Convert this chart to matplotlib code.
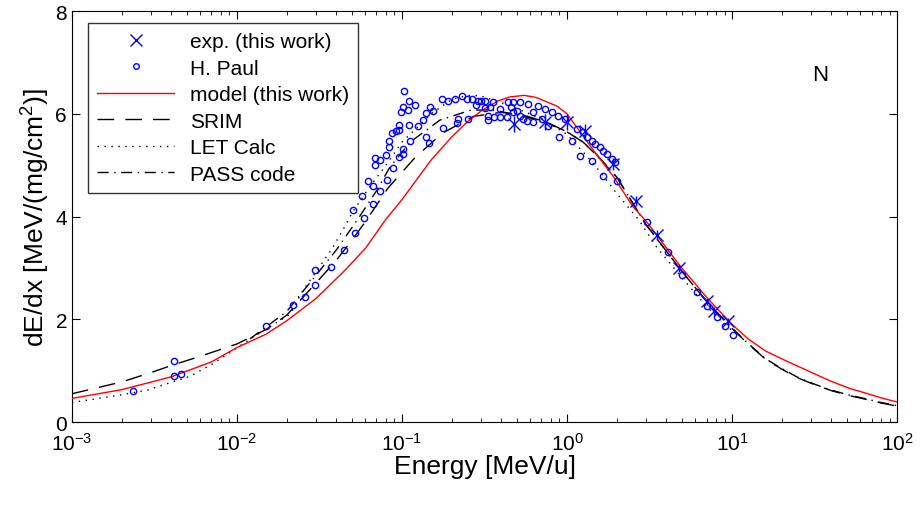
import numpy as np
import matplotlib
matplotlib.use("Agg")
import matplotlib.pyplot as plt
from matplotlib.lines import Line2D
from matplotlib.ticker import LogLocator, NullFormatter

plt.rcParams["font.family"] = ["Liberation Sans", "DejaVu Sans"]
plt.rcParams["mathtext.fontset"] = "custom"
plt.rcParams["mathtext.rm"] = "Liberation Sans"

# experimental points (this work)
exp_E = [0.48, 0.74, 1.0, 1.29, 1.9, 2.6, 3.5, 4.8, 7.0, 7.8, 9.5]
exp_S = [5.80, 5.84, 5.84, 5.66, 5.02, 4.30, 3.64, 3.00, 2.35, 2.16, 1.96]
exp_err = [0.15, 0.15, 0.15, 0.15, 0.12, 0.1, 0.1, 0.08, 0.07, 0.07, 0.06]

# H. Paul compilation
paul_E = [2.34e-3, 4.15e-3, 4.15e-3, 4.57e-3, 0.015, 0.022, 0.0259, 0.0297, 0.0297,
          0.037, 0.0445, 0.052, 0.0505, 0.0587, 0.0664, 0.057, 0.074, 0.081, 0.062,
          0.067, 0.069, 0.069, 0.074, 0.088, 0.080, 0.083, 0.083, 0.096, 0.102, 0.102,
          0.112, 0.087, 0.092, 0.096, 0.096, 0.110, 0.125, 0.134, 0.120, 0.101, 0.098,
          0.108, 0.110, 0.103, 0.139, 0.148, 0.154, 0.139, 0.145, 0.177, 0.175, 0.189,
          0.21, 0.23, 0.248, 0.265, 0.29, 0.28, 0.32, 0.218, 0.215, 0.25, 0.33, 0.32,
          0.34, 0.30, 0.356, 0.39, 0.44, 0.47, 0.52, 0.58, 0.33, 0.36, 0.39, 0.43,
          0.47, 0.46, 0.50, 0.52, 0.54, 0.57, 0.62, 0.62, 0.67, 0.74, 0.81, 0.88,
          0.97, 0.71, 0.77, 0.90, 1.07, 1.15, 1.25, 1.32, 1.42, 1.48, 1.58, 1.65,
          1.75, 1.86, 1.94, 1.2, 1.42, 1.65, 2.0, 3.05, 4.1, 5.0, 6.1, 7.0, 8.1,
          9.1, 10.1]
paul_S = [0.60, 1.19, 0.90, 0.93, 1.87, 2.28, 2.43, 2.96, 2.66,
          3.02, 3.35, 3.68, 4.12, 3.97, 4.24, 4.40, 4.49, 4.71, 4.69,
          4.59, 5.00, 5.14, 5.10, 4.94, 5.19, 5.35, 5.47, 5.16, 5.31, 5.21,
          5.47, 5.62, 5.66, 5.68, 5.78, 5.78, 5.76, 5.88, 6.17, 6.13, 6.03,
          6.07, 6.25, 6.44, 6.01, 6.13, 6.05, 5.54, 5.43, 5.72, 6.28, 6.25,
          6.28, 6.34, 6.28, 6.28, 6.26, 6.17, 6.26, 5.90, 5.82, 5.90, 5.88, 6.11,
          6.13, 6.25, 6.23, 6.09, 6.23, 6.23, 6.23, 6.19, 5.95, 5.93, 5.93, 5.93,
          6.03, 6.13, 6.05, 5.95, 5.90, 5.86, 5.84, 6.03, 6.15, 6.09, 6.03, 5.95,
          5.90, 5.90, 5.76, 5.54, 5.47, 5.70, 5.64, 5.54, 5.47, 5.41, 5.35, 5.27,
          5.21, 5.12, 5.06, 5.18, 5.08, 4.79, 4.69, 3.89, 3.31, 2.86, 2.53, 2.26, 2.04,
          1.87, 1.69]

# model (this work)
model_E = [1e-3, 2e-3, 4e-3, 7e-3, 0.01, 0.015, 0.02, 0.03, 0.045, 0.06, 0.08, 0.1,
           0.15, 0.2, 0.25, 0.3, 0.38, 0.45, 0.55, 0.65, 0.87, 1.0, 1.2, 1.5, 1.9,
           2.5, 3.05, 4.0, 4.84, 7.0, 10.0, 12.5, 16.0, 20.0, 25.7, 32.0, 40.0, 52.0,
           65.0, 80.0, 100.0]
model_S = [0.46, 0.63, 0.88, 1.17, 1.45, 1.71, 1.97, 2.40, 2.95, 3.38, 3.95, 4.33,
           5.10, 5.55, 5.85, 6.05, 6.25, 6.33, 6.36, 6.32, 6.15, 6.00, 5.65, 5.22, 4.79,
           4.20, 3.89, 3.39, 3.04, 2.43, 1.90, 1.62, 1.38, 1.23, 1.07, 0.93, 0.79, 0.65,
           0.56, 0.47, 0.39]

# SRIM
srim_E = [1e-3, 2e-3, 3e-3, 4e-3, 6e-3, 0.01, 0.015, 0.02, 0.03, 0.04, 0.05, 0.06,
          0.082, 0.12, 0.175, 0.27, 0.4, 0.55, 0.75, 1.0, 1.25, 1.5, 2.0, 3.0, 5.0,
          7.0, 10.0, 12.5, 16.0, 20.0, 25.0, 32.0, 40.0, 52.0, 65.0, 80.0, 100.0]
srim_S = [0.55, 0.78, 0.96, 1.10, 1.28, 1.52, 1.80, 2.08, 2.70, 3.15, 3.55, 3.90,
          4.55, 5.15, 5.62, 5.95, 6.03, 5.97, 5.84, 5.65, 5.45, 5.22, 4.77, 3.85, 2.92,
          2.35, 1.82, 1.52, 1.22, 1.03, 0.86, 0.72, 0.61, 0.51, 0.44, 0.37, 0.31]

# LET Calc
let_E = [1e-3, 2e-3, 2.85e-3, 5.2e-3, 7.1e-3, 0.0125, 0.021, 0.025, 0.0376, 0.044,
         0.05, 0.064, 0.08, 0.1, 0.15, 0.2, 0.25, 0.3, 0.4, 0.5, 0.7, 1.0, 1.3, 1.58,
         2.0, 2.7, 3.5, 5.0, 7.0, 10.0]
let_S = [0.38, 0.53, 0.62, 0.89, 1.13, 1.65, 2.10, 2.55, 3.37, 3.75,
         4.08, 4.59, 5.00, 5.45, 6.00, 6.28, 6.36, 6.35, 6.22, 6.10, 5.90, 5.60, 5.20, 4.88,
         4.45, 3.95, 3.40, 2.80, 2.25, 1.78]

# PASS code
pass_E = [0.012, 0.02, 0.03, 0.04, 0.054, 0.07, 0.084, 0.112, 0.17, 0.26, 0.35, 0.5,
          0.72, 1.0, 1.25, 1.45, 2.0, 3.0, 5.0, 7.0, 10.0, 12.5, 16.0, 20.0, 25.0,
          32.0, 40.0, 52.0, 65.0, 80.0, 100.0]
pass_S = [1.62, 2.15, 2.85, 3.35, 3.95, 4.50, 4.95, 5.45, 5.88, 6.07, 6.08, 5.98,
          5.86, 5.65, 5.45, 5.25, 4.77, 3.85, 2.92, 2.35, 1.83, 1.53, 1.23, 1.04, 0.87,
          0.73, 0.62, 0.52, 0.45, 0.38, 0.32]

fig = plt.figure(figsize=(9.22, 5.06), dpi=100)
ax = fig.add_axes([0.078, 0.164, 0.895, 0.812])

ax.errorbar(exp_E, exp_S, yerr=exp_err, fmt="x", color="blue", ms=8, mew=1.0,
            elinewidth=1.0, capsize=0, zorder=5)
ax.plot(paul_E, paul_S, "o", color="blue", mfc="none", ms=4.5, mew=1.0, zorder=4)
ax.plot(model_E, model_S, "-", color="red", lw=1.0, zorder=3)
ax.plot(srim_E, srim_S, color="black", lw=1.0, dashes=(12, 8))
ax.plot(let_E, let_S, color="black", lw=1.0, dashes=(1, 4))
ax.plot(pass_E, pass_S, color="black", lw=1.0, dashes=(8, 4, 1, 4))

ax.set_xscale("log")
ax.set_xlim(1e-3, 1e2)
ax.set_ylim(0, 8)
ax.set_yticks([0, 2, 4, 6, 8])
ax.xaxis.set_major_locator(LogLocator(base=10, numticks=10))
ax.xaxis.set_minor_locator(LogLocator(base=10, subs=np.arange(2, 10), numticks=20))
ax.xaxis.set_minor_formatter(NullFormatter())
ax.tick_params(which="both", direction="in", top=True, right=True, labelsize=15)
ax.tick_params(axis="x", which="major", pad=7)
ax.tick_params(which="major", length=6)
ax.tick_params(which="minor", length=3)

ax.set_xlabel("Energy [MeV/u]", fontsize=19, labelpad=0)
ax.set_ylabel("dE/dx [MeV/(mg/cm$^2$)]", fontsize=19, labelpad=3)
ax.text(0.907, 0.847, "N", transform=ax.transAxes, fontsize=16, ha="center", va="center")

handles = [
    Line2D([], [], ls="none", marker="x", color="blue", ms=8, mew=1.0),
    Line2D([], [], ls="none", marker="o", color="blue", mfc="none", ms=4, mew=1.0),
    Line2D([], [], color="red", lw=1.0),
    Line2D([], [], color="black", lw=1.0, dashes=(12, 8)),
    Line2D([], [], color="black", lw=1.0, dashes=(1, 4)),
    Line2D([], [], color="black", lw=1.0, dashes=(8, 4, 1, 4)),
]
labels = ["exp. (this work)", "H. Paul", "model (this work)", "SRIM", "LET Calc", "PASS code"]
leg = ax.legend(handles, labels, loc="upper left", bbox_to_anchor=(0.019, 0.972),
                fontsize=15, frameon=True, fancybox=False, edgecolor="black",
                handlelength=3.7, labelspacing=0.36, borderpad=0.45, handletextpad=0.75,
                borderaxespad=0.0)
leg.get_frame().set_linewidth(1.0)

fig.savefig("out.png", dpi=100)
